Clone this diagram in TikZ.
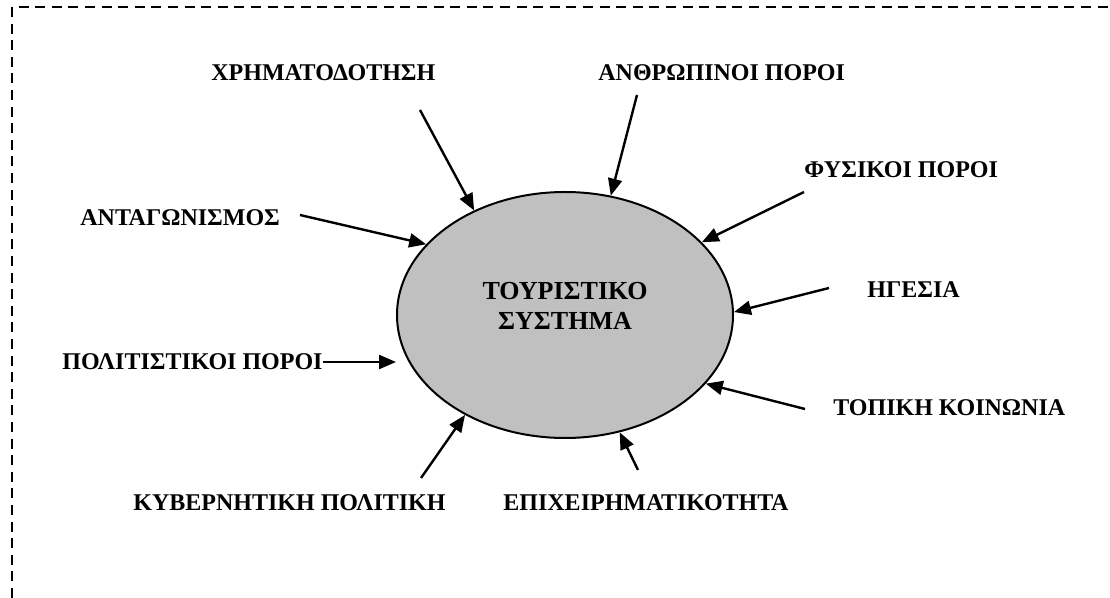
\documentclass[tikz,border=0pt]{standalone}
\usepackage{fontspec}
\setmainfont{Liberation Serif}
\usetikzlibrary{arrows.meta,shapes.geometric}
\definecolor{sysgray}{RGB}{192,192,192}

\begin{document}
\begin{tikzpicture}[x=0.5pt,y=-0.5pt,font=\fontsize{12}{15}\selectfont\bfseries,
 lbl/.style={inner sep=0pt,anchor=west},
 flow/.style={-{Triangle[length=8.5pt,width=7pt]},line width=1.2pt},
 frame/.style={dash pattern=on 5pt off 3.3pt,line width=1pt}]
\useasboundingbox (0,0) rectangle (1110,598);
\draw[frame] (12,598) -- (12,7) -- (1110,7);
% central system
\node[ellipse,draw,line width=1pt,fill=sysgray,minimum width=168pt,minimum height=123pt,inner sep=0pt] (sys) at (565,315) {};
\node[align=center,inner sep=0pt,font=\fontsize{13}{15}\selectfont\bfseries] (sysname) at (565,306) {ΤΟΥΡΙΣΤΙΚΟ\\ΣΥΣΤΗΜΑ};
% factors
\node[lbl] (fin) at (211,73) {ΧΡΗΜΑΤΟΔΟΤΗΣΗ};
\node[lbl] (hum) at (598,73) {ΑΝΘΡΩΠΙΝΟΙ ΠΟΡΟΙ};
\node[lbl] (nat) at (804,170) {ΦΥΣΙΚΟΙ ΠΟΡΟΙ};
\node[lbl] (comp) at (80,218) {ΑΝΤΑΓΩΝΙΣΜΟΣ};
\node[lbl] (lead) at (867,290) {ΗΓΕΣΙΑ};
\node[lbl] (cult) at (62,362) {ΠΟΛΙΤΙΣΤΙΚΟΙ ΠΟΡΟΙ};
\node[lbl] (loc) at (833,408) {ΤΟΠΙΚΗ ΚΟΙΝΩΝΙΑ};
\node[lbl] (gov) at (133,503) {ΚΥΒΕΡΝΗΤΙΚΗ ΠΟΛΙΤΙΚΗ};
\node[lbl] (ent) at (503,503) {ΕΠΙΧΕΙΡΗΜΑΤΙΚΟΤΗΤΑ};
% arrow tails
\coordinate (finT) at (420,110);
\coordinate (humT) at (637,95);
\coordinate (natT) at (804,192);
\coordinate (compT) at (300,215);
\coordinate (leadT) at (829,288);
\coordinate (locT) at (805,409);
\coordinate (govT) at (421,478);
\coordinate (entT) at (638,470);
\draw[flow] (finT) -- (sys.131);
\draw[flow] (humT) -- (sys.69);
\draw[flow] (natT) -- (sys.28);
\draw[flow] (compT) -- (sys.153);
\draw[flow] (leadT) -- (sys.1);
\draw[flow] (cult.east) -- (cult.east -| sys.west);
\draw[flow] (locT) -- (sys.334);
\draw[flow] (govT) -- (sys.225);
\draw[flow] (entT) -- (sys.295);
\end{tikzpicture}
\end{document}
